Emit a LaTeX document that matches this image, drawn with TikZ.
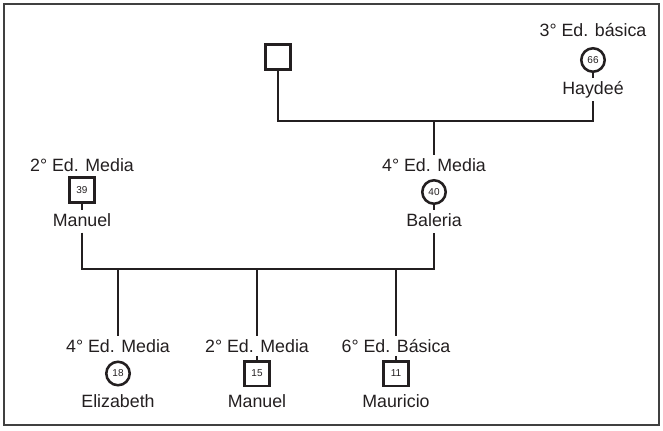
\documentclass[tikz,border=0pt]{standalone}
\usepackage{fontspec}
\setmainfont{Liberation Sans}
\definecolor{ink}{RGB}{35,31,32}
\begin{document}
\begin{tikzpicture}[x=0.75pt,y=-0.75pt,
  txt/.style={inner xsep=0pt,inner ysep=2.5pt,text height=9.5pt,text depth=0pt,
              font=\fontsize{13.35pt}{16pt}\selectfont,text=ink},
  male/.style={draw=ink,line width=1.9pt,rectangle,minimum size=18.4pt,inner sep=0pt,
               font=\fontsize{7.5pt}{9pt}\selectfont,text=ink},
  female/.style={draw=ink,line width=1.9pt,circle,minimum size=17.6pt,inner sep=0pt,
               font=\fontsize{7.5pt}{9pt}\selectfont,text=ink},
  link/.style={draw=ink,line width=1.65pt}]
\useasboundingbox (0,0) rectangle (663,430);
\draw[line width=0.8pt,draw=black!75] (4,4) rectangle (659,425);

% grandparents
\node[male] (f0) at (278,57) {};
\node[txt] (hlab) at (593,30) {3° Ed. básica};
\node[female] (hay) at (593,60) {66};
\node[txt] (hname) at (593,88) {Haydeé};

% parents
\node[txt] (mlab) at (82,165) {2° Ed. Media};
\node[male] (man) at (82,190) {39};
\node[txt] (mname) at (82,220) {Manuel};
\node[txt] (blab) at (434,165) {4° Ed. Media};
\node[female] (bal) at (434,192) {40};
\node[txt] (bname) at (434,220) {Baleria};

% children
\node[txt] (c1lab) at (118,346) {4° Ed. Media};
\node[female] (c1) at (118,373.5) {18};
\node[txt] (c1name) at (118,401.5) {Elizabeth};
\node[txt] (c2lab) at (257,346) {2° Ed. Media};
\node[male] (c2) at (257,373.5) {15};
\node[txt] (c2name) at (257,401.5) {Manuel};
\node[txt] (c3lab) at (396,346) {6° Ed. Básica};
\node[male] (c3) at (396,373.5) {11};
\node[txt] (c3name) at (396,401.5) {Mauricio};

% junctions
\coordinate (m1) at (434,121);
\coordinate (j1) at (118,269);
\coordinate (j2) at (257,269);
\coordinate (j3) at (396,269);

% connectors
\draw[link] (f0.south) |- (m1) -| ([yshift=-2pt]hname.south);
\draw[link] (m1) -- (blab.north);
\draw[link] (hay.south) -- (hname.north);
\draw[link] (man.south) -- (mname.north);
\draw[link] (bal.south) -- (bname.north);
\draw[link] ([yshift=-2pt]mname.south) |- (j2) -| ([yshift=-2pt]bname.south);
\draw[link] (j1) -- (c1lab.north);
\draw[link] (j2) -- (c2lab.north);
\draw[link] (j3) -- (c3lab.north);
\draw[link] (c2lab.south) -- (c2.north);
\draw[link] (c3lab.south) -- (c3.north);
\end{tikzpicture}
\end{document}
